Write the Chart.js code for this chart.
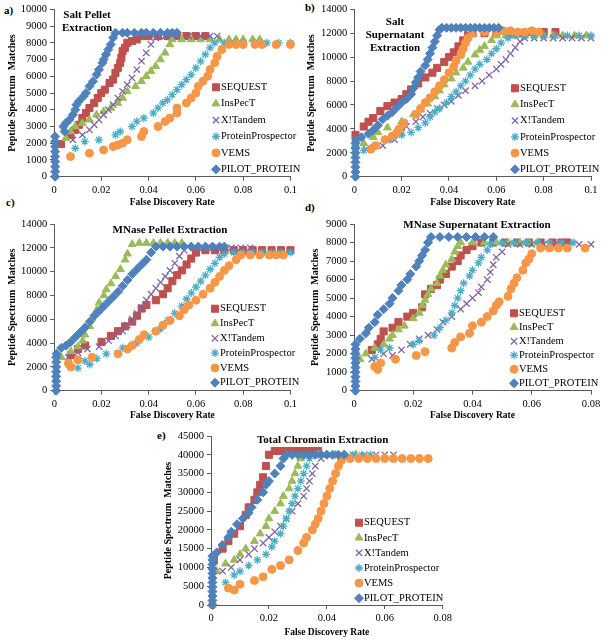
<!DOCTYPE html>
<html>
<head>
<meta charset="utf-8">
<script src="https://cdn.jsdelivr.net/npm/chart.js"></script>
<style>
body { margin: 0; background: #fff; }
#page { position: relative; width: 605px; height: 643px; overflow: hidden; font-family: "Liberation Serif", "Times New Roman", serif; }
#page canvas { position: absolute; }
.tag { position: absolute; font-weight: bold; font-size: 11px; line-height: 12px; }
</style>
</head>
<body>
<div id="page">
  <div class="tag" style="left:4px;top:4px">a)</div>
  <div class="tag" style="left:305px;top:1px">b)</div>
  <div class="tag" style="left:6px;top:196px">c)</div>
  <div class="tag" style="left:305px;top:201px">d)</div>
  <div class="tag" style="left:157px;top:429px">e)</div>
</div>
<script>
const seriesNames = ['SEQUEST', 'InsPecT', 'X!Tandem', 'ProteinProspector', 'VEMS', 'PILOT_PROTEIN'];

// a) Salt Pellet Extraction  [FDR, PSMs]
const aSequest = [[0.003,1950],[0.007,2500],[0.009,2800],[0.0105,3100],[0.012,3500],[0.0135,3800],[0.015,4100],[0.017,4400],[0.0185,4700],[0.02,5000],[0.0215,5200],[0.0235,5600],[0.025,5800],[0.026,6200],[0.027,6500],[0.028,6800],[0.0285,7100],[0.029,7500],[0.03,7700],[0.031,8000],[0.033,8100],[0.035,8200],[0.037,8400],[0.04,8400],[0.044,8400],[0.048,8400],[0.052,8400],[0.056,8400],[0.06,8400],[0.064,8400]];
const aInspect = [[0.005,2300],[0.007,2700],[0.009,3000],[0.012,3200],[0.015,3400],[0.018,3700],[0.021,3900],[0.024,4100],[0.027,4400],[0.029,4700],[0.031,5100],[0.0345,5400],[0.037,5700],[0.039,6000],[0.041,6300],[0.043,6600],[0.045,7000],[0.047,7400],[0.049,7900],[0.05,8200],[0.054,8200],[0.058,8200],[0.062,8200],[0.066,8200],[0.07,8200],[0.074,8200],[0.077,8200],[0.08,8200],[0.084,8200],[0.087,8200]];
const aTandem = [[0.008,2200],[0.012,2500],[0.015,2800],[0.017,3100],[0.019,3400],[0.021,3700],[0.023,4000],[0.025,4300],[0.027,4700],[0.029,5100],[0.031,5500],[0.033,5900],[0.035,6400],[0.037,6900],[0.039,7400],[0.041,7900],[0.043,8300],[0.047,8400],[0.052,8400],[0.057,8400],[0.062,8400],[0.066,8400],[0.069,8400]];
const aProspector = [[0.009,1700],[0.013,2100],[0.019,2200],[0.026,2500],[0.028,2700],[0.033,3000],[0.035,3300],[0.038,3500],[0.042,3800],[0.044,4100],[0.046,4400],[0.048,4600],[0.05,4900],[0.052,5200],[0.054,5500],[0.056,5800],[0.058,6100],[0.06,6500],[0.062,6900],[0.064,7300],[0.066,7700],[0.068,8000],[0.072,8000],[0.076,8000],[0.08,8000],[0.085,8000],[0.09,8000],[0.095,8000],[0.1,8000]];
const aVems = [[0.007,1200],[0.015,1400],[0.021,1600],[0.025,1800],[0.027,1900],[0.029,2000],[0.031,2200],[0.037,2400],[0.038,2700],[0.044,3000],[0.047,3300],[0.049,3500],[0.052,3800],[0.052,4100],[0.056,4400],[0.058,4700],[0.06,5000],[0.061,5400],[0.063,5700],[0.065,6000],[0.066,6400],[0.068,6800],[0.069,7200],[0.071,7600],[0.074,7900],[0.077,7900],[0.08,7900],[0.085,7900],[0.088,7900],[0.094,7900],[0.1,7900]];
const aPilot = [[0.0005,0],[0.0005,300],[0.0005,600],[0.0005,900],[0.0005,1200],[0.0005,1500],[0.0005,1800],[0.0005,2100],[0.0005,2400],[0.004,3000],[0.0045,2700],[0.005,3200],[0.0065,3400],[0.008,3700],[0.009,4000],[0.0095,4300],[0.0105,4500],[0.0125,4800],[0.0135,5000],[0.015,5400],[0.0165,5700],[0.018,6100],[0.019,6400],[0.0205,6800],[0.021,7000],[0.022,7300],[0.023,7600],[0.024,7900],[0.025,8300],[0.026,8600],[0.029,8600],[0.031,8600],[0.034,8600],[0.037,8600],[0.039,8600],[0.042,8600],[0.045,8600],[0.048,8600],[0.05,8600],[0.052,8600]];

// b) Salt Supernatant Extraction
const bSequest = [[0.0005,3500],[0.004,4200],[0.006,4600],[0.008,4900],[0.011,5500],[0.014,5900],[0.017,6200],[0.02,6500],[0.022,6900],[0.024,7300],[0.027,7800],[0.03,8300],[0.033,8700],[0.035,9100],[0.038,9600],[0.04,10000],[0.042,10400],[0.044,10900],[0.046,11400],[0.048,11800],[0.05,12000],[0.055,12000],[0.06,12000],[0.065,12000],[0.07,12000],[0.075,12100],[0.08,12100],[0.085,12100]];
const bInspect = [[0.004,2800],[0.008,3300],[0.01,3700],[0.014,4100],[0.02,4600],[0.025,5200],[0.028,5600],[0.031,6100],[0.034,6700],[0.036,7200],[0.038,7700],[0.041,8200],[0.043,8700],[0.046,9100],[0.048,9600],[0.051,10200],[0.053,10600],[0.055,10900],[0.058,11400],[0.06,11800],[0.064,11800],[0.068,11800],[0.072,11800],[0.076,11800],[0.08,11800],[0.084,11800],[0.088,11800],[0.093,11800],[0.098,11800]];
const bTandem = [[0.005,2300],[0.012,2600],[0.017,3100],[0.02,3700],[0.022,4200],[0.026,4600],[0.029,5000],[0.032,5300],[0.035,5700],[0.038,6000],[0.041,6300],[0.044,6800],[0.047,7200],[0.051,7600],[0.054,8000],[0.057,8500],[0.06,9000],[0.062,9400],[0.064,9800],[0.066,10300],[0.068,10800],[0.07,11300],[0.072,11600],[0.076,11600],[0.08,11600],[0.084,11600],[0.088,11600],[0.092,11600],[0.096,11600],[0.1,11600]];
const bProspector = [[0.0005,2000],[0.0005,2300],[0.0005,2600],[0.0005,2900],[0.004,2200],[0.008,2500],[0.015,3100],[0.02,3500],[0.024,3700],[0.027,4100],[0.03,4500],[0.032,5000],[0.034,5400],[0.036,5700],[0.039,6200],[0.041,6700],[0.043,7100],[0.045,7600],[0.047,8000],[0.049,8500],[0.051,9000],[0.053,9400],[0.056,9800],[0.058,10300],[0.06,10700],[0.062,11200],[0.065,11600],[0.068,11800],[0.072,11800],[0.076,11800],[0.08,11800],[0.085,11800],[0.09,11800],[0.095,11800],[0.1,11800]];
const bVems = [[0.007,2300],[0.009,2600],[0.013,3100],[0.016,3400],[0.018,3700],[0.019,4000],[0.021,4500],[0.026,5200],[0.028,5700],[0.03,6200],[0.032,6600],[0.034,7100],[0.036,7600],[0.038,8100],[0.04,8700],[0.042,9200],[0.043,9700],[0.045,10200],[0.046,10700],[0.047,11200],[0.048,11600],[0.05,12000],[0.055,12100],[0.06,12100],[0.063,12200],[0.066,12200],[0.069,12100],[0.072,12100],[0.075,12200],[0.078,12100]];
const bPilot = [[0.0005,0],[0.0005,400],[0.0005,800],[0.0005,1200],[0.0005,1600],[0.0005,2000],[0.0005,2400],[0.0005,2800],[0.0008,3100],[0.003,3300],[0.006,3600],[0.008,3900],[0.01,4300],[0.012,4800],[0.014,5100],[0.016,5400],[0.018,5800],[0.02,6200],[0.022,6500],[0.024,6900],[0.025,7400],[0.026,7900],[0.027,8300],[0.028,8800],[0.03,9300],[0.031,9800],[0.032,10300],[0.033,10800],[0.034,11300],[0.035,11800],[0.036,12300],[0.037,12450],[0.039,12450],[0.041,12450],[0.043,12450],[0.045,12450],[0.047,12450],[0.049,12450],[0.051,12450],[0.053,12450],[0.055,12450],[0.057,12450],[0.059,12450],[0.061,12450]];

// c) MNase Pellet Extraction
const cSequest = [[0.007,3000],[0.01,3500],[0.013,3800],[0.02,4100],[0.024,4600],[0.027,5000],[0.03,5400],[0.033,5800],[0.035,6300],[0.037,6900],[0.039,7200],[0.043,7600],[0.046,8100],[0.048,8600],[0.05,9200],[0.052,9700],[0.054,10100],[0.056,10600],[0.058,11100],[0.06,11600],[0.064,11800],[0.068,11800],[0.072,11800],[0.076,11800],[0.08,11800],[0.084,11800],[0.088,11800],[0.092,11800],[0.096,11800],[0.1,11800]];
const cInspect = [[0.003,2800],[0.007,3300],[0.01,3700],[0.012,4200],[0.013,4700],[0.015,5400],[0.016,6100],[0.018,6800],[0.019,7400],[0.021,8000],[0.022,8500],[0.024,9000],[0.026,9600],[0.028,10200],[0.03,11000],[0.031,11500],[0.033,12300],[0.036,12400],[0.039,12400],[0.042,12400],[0.045,12400],[0.048,12400],[0.051,12400],[0.054,12400]];
const cTandem = [[0.006,2800],[0.01,3200],[0.014,3500],[0.019,3700],[0.023,4200],[0.026,4600],[0.029,5000],[0.031,5500],[0.033,6000],[0.035,6500],[0.037,7000],[0.039,7600],[0.041,8100],[0.043,8600],[0.045,9100],[0.047,9600],[0.049,10100],[0.051,10700],[0.053,11300],[0.055,11800],[0.059,12000],[0.063,12000],[0.067,12000],[0.071,12000],[0.075,12000],[0.079,12000],[0.083,12000]];
const cProspector = [[0.006,2200],[0.01,1900],[0.013,2500],[0.015,2200],[0.018,2700],[0.022,3100],[0.029,3600],[0.035,4000],[0.04,4500],[0.045,5200],[0.048,5900],[0.051,6500],[0.054,7100],[0.056,7700],[0.058,8200],[0.06,8700],[0.062,9200],[0.064,9700],[0.066,10200],[0.068,10700],[0.07,11200],[0.072,11500],[0.076,11600],[0.08,11600],[0.084,11600],[0.088,11600],[0.092,11600],[0.096,11600],[0.1,11600]];
const cVems = [[0.006,2300],[0.007,2000],[0.01,2600],[0.016,2800],[0.027,3100],[0.031,3500],[0.033,3800],[0.036,4300],[0.038,4700],[0.043,5000],[0.046,5500],[0.049,5900],[0.053,6300],[0.055,6800],[0.057,7200],[0.06,7600],[0.063,8100],[0.066,8600],[0.068,9100],[0.07,9600],[0.072,10100],[0.074,10500],[0.077,11000],[0.079,11400],[0.083,11400],[0.087,11400],[0.091,11400],[0.094,11400],[0.097,11400]];
const cPilot = [[0.0008,0],[0.0008,400],[0.0008,800],[0.0008,1200],[0.0008,1600],[0.0008,2000],[0.0008,2400],[0.0008,2800],[0.001,3100],[0.003,3600],[0.005,3800],[0.007,4100],[0.009,4500],[0.011,4900],[0.013,5300],[0.015,5800],[0.017,6300],[0.019,6700],[0.021,7100],[0.023,7500],[0.025,7900],[0.027,8300],[0.029,8800],[0.031,9300],[0.033,9800],[0.035,10200],[0.037,10600],[0.039,11000],[0.041,11600],[0.043,12100],[0.046,12100],[0.049,12100],[0.052,12100],[0.055,12100],[0.058,12100],[0.061,12100],[0.064,12100],[0.067,12100],[0.07,12100],[0.072,12100]];

// d) MNase Supernatant Extraction
const dSequest = [[0.006,2200],[0.008,2500],[0.009,2800],[0.01,3200],[0.013,3400],[0.015,3700],[0.018,4000],[0.02,4200],[0.023,4500],[0.024,5200],[0.026,5500],[0.028,5700],[0.029,6000],[0.031,6300],[0.033,6700],[0.035,7000],[0.036,7300],[0.038,7600],[0.04,7800],[0.043,8000],[0.047,8000],[0.051,8000],[0.055,8000],[0.059,8000],[0.063,8000],[0.067,8000],[0.07,8000],[0.072,8000]];
const dInspect = [[0.002,1700],[0.004,2000],[0.007,2300],[0.01,2500],[0.012,2800],[0.013,3000],[0.015,3300],[0.017,3500],[0.02,3900],[0.022,4200],[0.023,4600],[0.024,4900],[0.025,5200],[0.026,5500],[0.028,5800],[0.029,6200],[0.03,6500],[0.031,6800],[0.033,7100],[0.034,7500],[0.035,7800],[0.036,8000],[0.04,8000],[0.044,8000],[0.048,8000],[0.052,8000],[0.056,8000],[0.059,8000],[0.062,8000]];
const dTandem = [[0.006,1700],[0.01,2000],[0.013,1900],[0.016,2200],[0.019,2500],[0.022,2800],[0.025,3000],[0.028,3300],[0.03,3700],[0.033,4000],[0.036,4400],[0.038,4700],[0.04,5000],[0.042,5300],[0.043,5600],[0.045,6000],[0.046,6400],[0.047,6800],[0.048,7200],[0.05,7500],[0.052,7900],[0.056,7900],[0.06,7900],[0.064,7900],[0.068,7900],[0.072,7900],[0.076,7900],[0.08,7900]];
const dProspector = [[0.0005,1500],[0.0005,1800],[0.0005,2100],[0.007,1800],[0.009,2200],[0.012,2300],[0.02,2500],[0.022,2700],[0.027,3000],[0.029,3400],[0.031,3800],[0.033,4200],[0.034,4600],[0.035,5000],[0.036,5400],[0.037,5800],[0.039,6200],[0.04,6500],[0.042,6900],[0.043,7200],[0.045,7600],[0.046,7900],[0.05,8000],[0.054,8000],[0.058,8000],[0.062,8000],[0.066,8000],[0.07,8000],[0.074,8000]];
const dVems = [[0.007,1300],[0.008,1150],[0.009,1500],[0.014,1700],[0.021,1900],[0.024,2100],[0.033,2300],[0.034,2600],[0.036,2900],[0.039,3100],[0.04,3500],[0.043,3700],[0.045,4000],[0.047,4300],[0.048,4600],[0.049,4800],[0.052,5100],[0.053,5500],[0.054,5800],[0.055,6100],[0.057,6500],[0.058,6900],[0.059,7100],[0.06,7400],[0.063,7700],[0.066,7700],[0.069,7700],[0.072,7700],[0.078,7700]];
const dPilot = [[0.0005,0],[0.0005,250],[0.0005,500],[0.0005,750],[0.0005,1000],[0.0005,1250],[0.0005,1500],[0.0005,1750],[0.0005,2000],[0.0005,2250],[0.0005,2500],[0.002,2800],[0.004,3100],[0.005,3400],[0.007,3700],[0.008,4100],[0.01,4400],[0.012,4700],[0.013,5000],[0.015,5400],[0.016,5700],[0.018,6000],[0.019,6300],[0.021,6700],[0.022,7000],[0.023,7300],[0.024,7600],[0.025,8000],[0.026,8300],[0.029,8300],[0.032,8300],[0.035,8300],[0.038,8300],[0.041,8300],[0.044,8300],[0.047,8300]];

// e) Total Chromatin Extraction
const eSequest = [[0.001,12000],[0.004,15000],[0.006,17000],[0.008,19000],[0.01,21000],[0.012,24000],[0.013,26000],[0.015,28000],[0.016,30000],[0.017,32000],[0.018,34000],[0.019,37000],[0.02,40000],[0.022,41000],[0.024,41000],[0.026,41000],[0.028,41000],[0.03,41000],[0.032,41000],[0.034,41000],[0.036,41000],[0.037,41000]];
const eInspect = [[0.002,9000],[0.005,11000],[0.008,12000],[0.01,13500],[0.012,15000],[0.015,17000],[0.017,19000],[0.019,21000],[0.02,23000],[0.022,25000],[0.024,27000],[0.025,29000],[0.027,31000],[0.028,33000],[0.029,35000],[0.03,37000],[0.031,39000],[0.034,40000],[0.037,40000],[0.04,40000],[0.043,40000],[0.046,40000],[0.05,40000]];
const eTandem = [[0.004,9000],[0.007,10000],[0.01,12000],[0.013,13500],[0.015,15000],[0.018,16500],[0.02,18000],[0.022,19500],[0.024,21000],[0.026,23000],[0.028,25000],[0.03,27000],[0.032,29000],[0.033,31000],[0.034,33000],[0.035,35000],[0.036,37000],[0.038,39000],[0.041,40000],[0.045,40000],[0.049,40000],[0.053,40000],[0.057,40000],[0.06,40000],[0.063,40000]];
const eProspector = [[0.005,6000],[0.008,8000],[0.01,9000],[0.013,10500],[0.016,12000],[0.019,13500],[0.021,15500],[0.022,17000],[0.024,19000],[0.025,21000],[0.026,23000],[0.027,25000],[0.028,27000],[0.029,29000],[0.03,31000],[0.031,33000],[0.032,35000],[0.033,37000],[0.034,39000],[0.037,40000],[0.04,40000],[0.043,40000],[0.046,40000],[0.049,40000],[0.052,40000],[0.055,40000]];
const eVems = [[0.0005,0],[0.006,4500],[0.008,4000],[0.01,5500],[0.015,6500],[0.018,7500],[0.021,9500],[0.024,10500],[0.027,12000],[0.03,14500],[0.032,16500],[0.033,18000],[0.035,20000],[0.036,21500],[0.037,23000],[0.038,25000],[0.039,27000],[0.04,29000],[0.041,31000],[0.042,33000],[0.043,35000],[0.044,37000],[0.045,38500],[0.048,39000],[0.051,39000],[0.054,39000],[0.057,39000],[0.06,39000],[0.063,39000],[0.066,39000],[0.069,39000],[0.072,39000],[0.075,39000]];
const ePilot = [[0.0005,0],[0.0005,1200],[0.0005,2400],[0.0005,3600],[0.0005,4800],[0.0005,6000],[0.0005,7200],[0.0005,8400],[0.0005,9600],[0.0005,10800],[0.0005,12000],[0.0005,13000],[0.002,14000],[0.004,16000],[0.006,18000],[0.007,19500],[0.009,21500],[0.011,23000],[0.013,24500],[0.014,26000],[0.016,28000],[0.018,30000],[0.019,32000],[0.02,33000],[0.022,35000],[0.024,37000],[0.025,39000],[0.026,40000],[0.028,40000],[0.03,40000],[0.032,40000],[0.034,40000],[0.036,40000],[0.038,40000],[0.04,40000],[0.042,40000],[0.044,40000],[0.046,40000]];

// look of each series (Excel 2007 palette)
const colors = ['#C0504D', '#9BBB59', '#8064A2', '#4BACC6', '#F79646', '#4F81BD'];
const styles = ['rect', 'triangle', 'crossRot', 'star', 'circle', 'rectRot'];
const radii = [5, 4.5, 4.5, 4, 4, 4.5];
const widths = [1, 1, 1.3, 1.3, 1, 1];

const axisColor = '#595959';
const serif = '"Liberation Serif", "Times New Roman", serif';

const panels = [
  { series: [aSequest, aInspect, aTandem, aProspector, aVems, aPilot], xMax: 0.1, yMax: 10000, yStep: 1000,
    title: ['Salt Pellet', 'Extraction'], box: [0, 0, 300, 210], padT: 9.3, padR: 9, yW: 54, xH: 33.3, yTitlePad: 6.4,
    titleX: 87, titleY: 15, legX: 216, legY: 87.3, legStep: 16.4 },
  { series: [bSequest, bInspect, bTandem, bProspector, bVems, bPilot], xMax: 0.1, yMax: 14000, yStep: 2000,
    title: ['Salt', 'Supernatant', 'Extraction'], box: [300, 0, 305, 210], padT: 9.3, padR: 14, yW: 54.3, xH: 33.3, yTitlePad: 5.4,
    titleX: 95, titleY: 22, legX: 215, legY: 88.3, legStep: 16.2 },
  { series: [cSequest, cInspect, cTandem, cProspector, cVems, cPilot], xMax: 0.1, yMax: 14000, yStep: 2000,
    title: ['MNase Pellet Extraction'], box: [0, 210, 300, 213], padT: 14, padR: 9, yW: 54.3, xH: 32.3, yTitlePad: 6.4,
    titleX: 170, titleY: 20, legX: 215, legY: 98.7, legStep: 14.8 },
  { series: [dSequest, dInspect, dTandem, dProspector, dVems, dPilot], xMax: 0.08, yMax: 9000, yStep: 1000,
    title: ['MNase Supernatant Extraction'], box: [300, 210, 305, 213], padT: 14, padR: 14, yW: 54, xH: 32.3, yTitlePad: 9.4,
    titleX: 177, titleY: 15, legX: 214, legY: 103.3, legStep: 14 },
  { series: [eSequest, eInspect, eTandem, eProspector, eVems, ePilot], xMax: 0.08, yMax: 45000, yStep: 5000,
    title: ['Total Chromatin Extraction'], box: [150, 420, 320, 220], padT: 16, padR: 27.3, yW: 61, xH: 35, yTitlePad: 12.7,
    titleX: 172.7, titleY: 20, legX: 209, legY: 102.7, legStep: 15.1 }
];

// panel title + in-plot legend
const overlay = {
  id: 'overlay',
  afterDatasetsDraw(chart, args, opts) {
    const ctx = chart.ctx;
    ctx.save();
    ctx.fillStyle = '#000';
    ctx.textAlign = 'center';
    ctx.textBaseline = 'middle';
    ctx.font = 'bold 11px ' + serif;
    opts.title.forEach((line, i) => ctx.fillText(line, opts.titleX, opts.titleY + i * 13));

    ctx.textAlign = 'left';
    ctx.font = '10.5px ' + serif;
    chart.data.datasets.forEach((ds, i) => {
      const y = opts.legY + i * opts.legStep;
      ctx.fillStyle = ds.backgroundColor;
      ctx.strokeStyle = ds.borderColor;
      ctx.lineWidth = ds.borderWidth;
      Chart.helpers.drawPoint(ctx, { pointStyle: ds.pointStyle, radius: ds.pointRadius, rotation: 0, borderWidth: ds.borderWidth }, opts.legX, y);
      ctx.fillStyle = '#000';
      ctx.fillText(ds.label, opts.legX + 5, y);
    });
    ctx.restore();
  }
};

const page = document.getElementById('page');

panels.forEach(p => {
  const canvas = document.createElement('canvas');
  canvas.width = p.box[2];
  canvas.height = p.box[3];
  canvas.style.left = p.box[0] + 'px';
  canvas.style.top = p.box[1] + 'px';
  canvas.style.width = p.box[2] + 'px';
  canvas.style.height = p.box[3] + 'px';
  page.appendChild(canvas);

  const datasets = p.series.map((pts, i) => ({
    label: seriesNames[i],
    data: pts.map(d => ({ x: d[0], y: d[1] })),
    pointStyle: styles[i],
    pointRadius: radii[i],
    pointHoverRadius: radii[i],
    backgroundColor: colors[i],
    borderColor: colors[i],
    borderWidth: widths[i],
    showLine: false,
    clip: false,
    order: 5 - i
  }));

  new Chart(canvas, {
    type: 'scatter',
    data: { datasets },
    plugins: [overlay],
    options: {
      responsive: false,
      animation: false,
      layout: { padding: { left: 0, right: p.padR, top: p.padT, bottom: 0 } },
      plugins: {
        legend: { display: false },
        tooltip: { enabled: false },
        overlay: { title: p.title, titleX: p.titleX, titleY: p.titleY, legX: p.legX, legY: p.legY, legStep: p.legStep }
      },
      scales: {
        x: {
          type: 'linear', min: 0, max: p.xMax,
          ticks: { stepSize: 0.02, color: '#000', font: { family: serif, size: 10.5 }, padding: 3, maxRotation: 0,
            callback: v => String(+v.toFixed(2)) },
          grid: { drawOnChartArea: false, drawTicks: true, tickLength: 4, color: axisColor },
          border: { color: axisColor, width: 1 },
          title: { display: true, text: 'False Discovery Rate', color: '#000',
            font: { family: serif, size: 9.5, weight: 'bold', lineHeight: 1.2 }, padding: { top: 0, bottom: 2 } },
          afterFit: s => { s.height = p.xH; }
        },
        y: {
          type: 'linear', min: 0, max: p.yMax,
          ticks: { stepSize: p.yStep, color: '#000', font: { family: serif, size: 10.5 }, padding: 3,
            callback: v => String(v) },
          grid: { drawOnChartArea: false, drawTicks: true, tickLength: 4, color: axisColor },
          border: { color: axisColor, width: 1 },
          title: { display: true, text: 'Peptide Spectrum  Matches', color: '#000',
            font: { family: serif, size: 10, weight: 'bold', lineHeight: 1.2 }, padding: { top: p.yTitlePad, bottom: 0 } },
          afterFit: s => { s.width = p.yW; }
        }
      }
    }
  });
});
</script>
</body>
</html>
